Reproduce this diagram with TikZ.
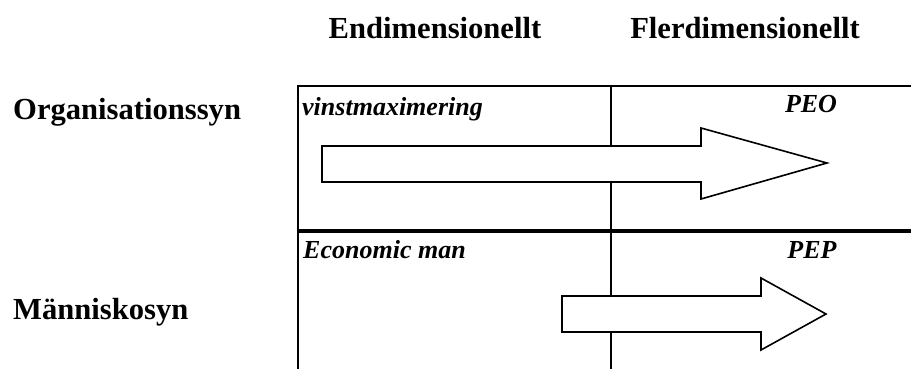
\documentclass[tikz,border=0pt]{standalone}
\usepackage{fontspec}
\setmainfont{Liberation Serif}
\usetikzlibrary{positioning}

\begin{document}
\begin{tikzpicture}[x=1pt, y=-1pt, line join=miter,
    rubrik/.style={font=\bfseries\fontsize{30.6}{32}\selectfont, inner sep=0pt},
    etikett/.style={font=\bfseries\itshape\fontsize{26}{28}\selectfont, inner sep=0pt},
    ram/.style={line width=1.6pt},
    pil/.style={line width=1.6pt, fill=white}]

    \useasboundingbox (0,0) rectangle (911,369);

    % grid
    \coordinate (NV) at (298,86);
    \coordinate (NH) at (911,86);
    \coordinate (SV) at (298,369);
    \coordinate (NM) at (611,86);
    \coordinate (SM) at (611,369);

    \draw[ram] (NH) -- (NV) -- (SV);
    \draw[ram] (NM) -- (SM);
    \draw[line width=3.2pt] (298,231) -- (911,231);

    % headings
    \node[rubrik, anchor=base] (en) at (435,39) {Endimensionellt};
    \node[rubrik, anchor=base] (fler) at (745,39) {Flerdimensionellt};
    \node[rubrik, anchor=base west] (org) at (13,119) {Organisationssyn};
    \node[rubrik, anchor=base west] (man) at (13,319) {Människosyn};

    % cell labels
    \node[etikett, anchor=base west] (vinst) at (302,115) {vinstmaximering};
    \node[etikett, anchor=base] (peo) at (811,113) {PEO};
    \node[etikett, anchor=base west] (econ) at (303,258) {Economic man};
    \node[etikett, anchor=base] (pep) at (812,258) {PEP};

    % block arrows
    \draw[pil] (322,146) -- (701,146) -- (701,128) -- (827,163)
        -- (701,199) -- (701,182) -- (322,182) -- cycle;
    \draw[pil] (562,296) -- (761,296) -- (761,278) -- (826,314)
        -- (761,350) -- (761,332) -- (562,332) -- cycle;

\end{tikzpicture}
\end{document}
